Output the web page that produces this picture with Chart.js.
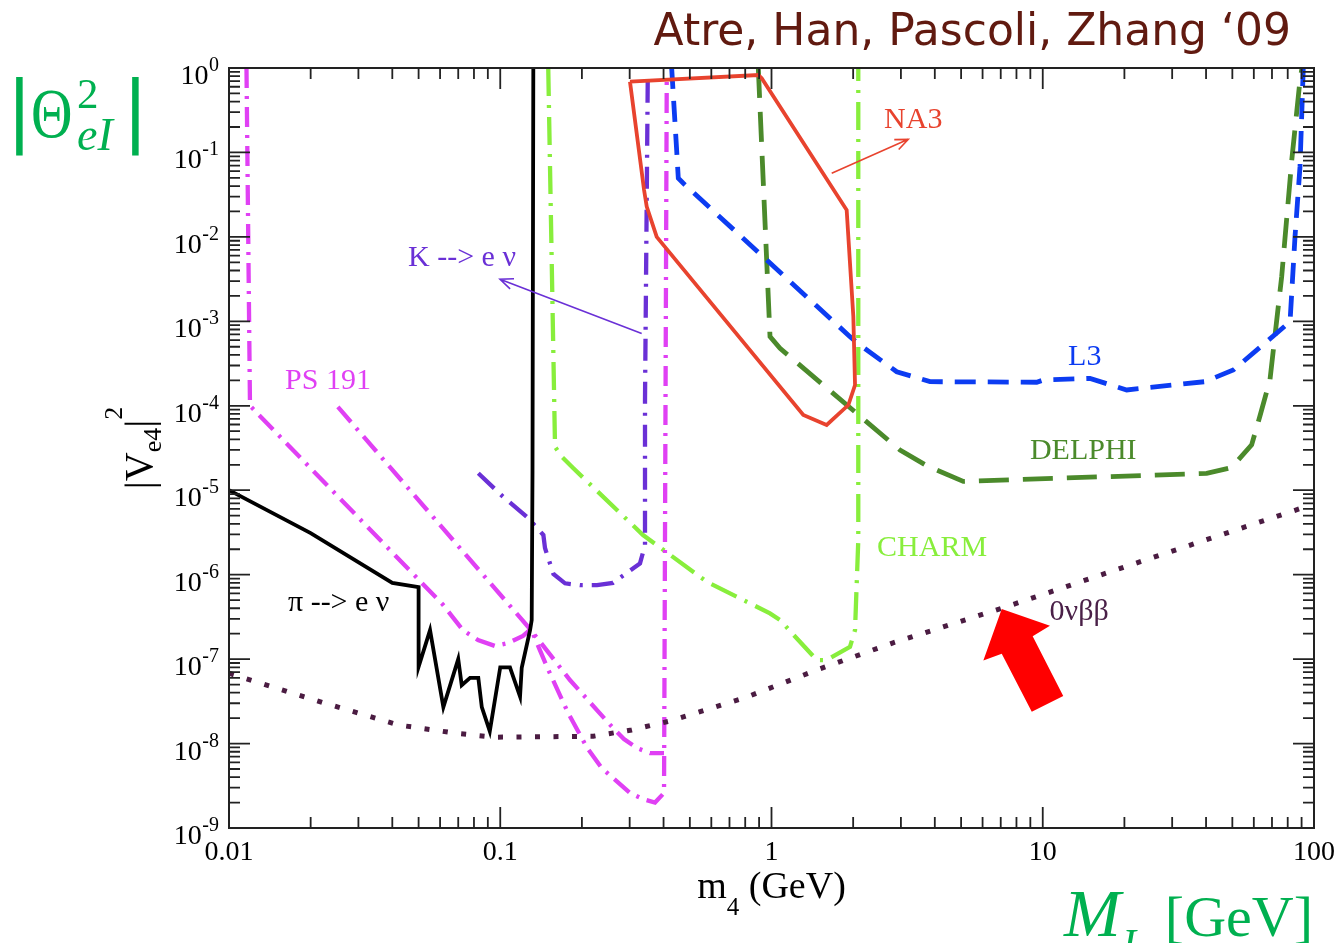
<!DOCTYPE html>
<html>
<head>
<meta charset="utf-8">
<script src="https://cdn.jsdelivr.net/npm/chart.js@4.4.0/dist/chart.umd.min.js"></script>
<style>
  html, body { margin: 0; padding: 0; background: #fff; }
  #wrap { position: relative; width: 1340px; height: 943px; }
</style>
</head>
<body>
<div id="wrap"><canvas id="grafico"></canvas></div>
<script>
// axis ticks
const xTickValues = [0.01, 0.1, 1, 10, 100];
const xTickLabels = ['0.01', '0.1', '1', '10', '100'];
const yTickExponents = [0, -1, -2, -3, -4, -5, -6, -7, -8, -9];
const minorSteps = [2, 3, 4, 5, 6, 7, 8, 9];

// pi --> e nu (black, solid)
const piX = [0.01, 0.02, 0.04, 0.05, 0.05, 0.0551, 0.0617, 0.070, 0.0721, 0.0774, 0.083, 0.0855, 0.0915, 0.1, 0.1086, 0.1183, 0.12, 0.1288, 0.1306, 0.1315, 0.1324];
const piY = [1e-5, 3.1e-6, 8.0e-7, 7.1e-7, 8.1e-8, 2.2e-7, 2.7e-8, 1.0e-7, 4.9e-8, 6.0e-8, 6.0e-8, 2.7e-8, 1.4e-8, 8.0e-8, 8.0e-8, 3.6e-8, 7.9e-8, 2.2e-7, 2.9e-7, 1.7e-5, 1];

// PS 191 (two magenta dash-dot curves)
const ps1X = [0.0116, 0.01195, 0.0615, 0.0729, 0.0828, 0.0956, 0.1068, 0.1213, 0.1298, 0.140, 0.150, 0.178, 0.209, 0.237, 0.301, 0.336, 0.372, 0.4016, 0.411];
const ps1Y = [1, 1e-4, 4.4e-7, 2.2e-7, 1.68e-7, 1.43e-7, 1.55e-7, 1.88e-7, 2.27e-7, 1.28e-7, 7.6e-8, 2.3e-8, 8.9e-9, 5.1e-9, 2.6e-9, 2.2e-9, 2.0e-9, 2.6e-9, 0.8];
const ps2X = [0.0252, 0.1288, 0.1807, 0.2604, 0.2858, 0.319, 0.3565, 0.4016];
const ps2Y = [9.7e-5, 2.27e-7, 5.65e-8, 1.53e-8, 1.13e-8, 8.85e-9, 7.7e-9, 7.7e-9];

// K --> e nu (purple dash-dot)
const kX = [0.083, 0.1023, 0.1265, 0.1442, 0.1462, 0.157, 0.1733, 0.1968, 0.2274, 0.2604, 0.3275, 0.3417, 0.3417, 0.3498];
const kY = [1.59e-5, 8.4e-6, 4.7e-6, 2.95e-6, 2.07e-6, 1.02e-6, 7.9e-7, 7.5e-7, 7.5e-7, 8.0e-7, 1.36e-6, 2.24e-6, 1.17e-4, 0.76];

// CHARM (lime dash-dot)
const charmX = [0.1503, 0.1592, 0.1689, 0.186, 0.336, 0.577, 0.987, 1.075, 1.468, 1.597, 1.947, 2.032, 2.089, 2.089];
const charmY = [1, 3.27e-5, 2.47e-5, 1.82e-5, 2.95e-6, 8.25e-7, 3.48e-7, 2.9e-7, 9.75e-8, 9.75e-8, 1.4e-7, 2.21e-7, 2.57e-6, 1];

// NA3 (red closed contour)
const na3X = [0.3008, 0.894, 0.920, 1.893, 2.003, 2.032, 1.92, 1.597, 1.31, 0.3774, 0.3467, 0.339, 0.3008];
const na3Y = [0.689, 0.826, 0.755, 0.0208, 1.135e-3, 1.76e-4, 1.02e-4, 5.92e-5, 7.78e-5, 1.0e-2, 0.0228, 0.0359, 0.689];

// L3 (blue dashed)
const l3X = [0.4285, 0.447, 0.4533, 0.473, 1.947, 2.12, 2.895, 3.84, 9.5, 10.05, 14.94, 20.4, 39.6, 50.4, 81.6, 85.1, 88.8, 91.3];
const l3Y = [1, 0.107, 0.0494, 0.0431, 6.58e-4, 5.25e-4, 2.53e-4, 1.93e-4, 1.9e-4, 2.02e-4, 2.11e-4, 1.54e-4, 1.93e-4, 2.65e-4, 9.9e-4, 1.0e-2, 0.0678, 1];

// DELPHI (dark green long dash)
const delphiX = [0.894, 0.9874, 1.075, 2.977, 3.735, 5.094, 7.57, 40.2, 49.7, 58.9, 63.2, 68.8, 76.0, 82.8, 88.8, 90.3];
const delphiY = [1, 6.58e-4, 4.79e-4, 2.99e-5, 1.95e-5, 1.27e-5, 1.33e-5, 1.58e-5, 1.86e-5, 3.44e-5, 7.57e-5, 2.02e-4, 3.38e-3, 0.0813, 0.721, 1];

// 0 nu beta beta (dotted)
const bbX = [0.01, 0.0223, 0.0421, 0.0691, 0.0956, 0.2203, 0.3053, 0.4225, 0.7985, 1.468, 2.774, 7.06, 24.9, 95];
const bbY = [6.8e-8, 3.04e-8, 1.66e-8, 1.32e-8, 1.19e-8, 1.22e-8, 1.45e-8, 1.85e-8, 3.49e-8, 7.43e-8, 1.54e-7, 4.0e-7, 1.56e-6, 6.5e-6];

// big red arrow pointing at the 0vbb line (data coords)
const redArrowX = [7.06, 6.04, 7.06, 9.11, 11.9, 9.18, 10.63];
const redArrowY = [3.93e-7, 9.62e-8, 1.16e-7, 2.38e-8, 3.65e-8, 1.87e-7, 2.49e-7];

const colPi = '#000000';
const colPS = '#e040f4';
const colK = '#6a30d6';
const colCharm = '#88ee3c';
const colNA3 = '#e8432e';
const colL3 = '#0c3cf2';
const colDelphi = '#4b8a2b';
const colBB = '#4b1c42';

const curveLabels = [
  {text: 'NA3', x: 2.6, y: 0.242, color: colNA3},
  {text: 'K --> e \u03bd', x: 0.0457, y: 5.62e-3, color: colK},
  {text: 'PS 191', x: 0.0161, y: 1.96e-4, color: colPS},
  {text: 'L3', x: 12.4, y: 3.78e-4, color: colL3},
  {text: 'DELPHI', x: 8.97, y: 2.91e-5, color: colDelphi},
  {text: 'CHARM', x: 2.45, y: 2.07e-6, color: colCharm},
  {text: '0\u03bd\u03b2\u03b2', x: 10.6, y: 3.61e-7, color: '#4a2048'},
  {text: '\u03c0 --> e \u03bd', x: 0.0165, y: 4.61e-7, color: '#000'}
];
const thinArrows = [
  {from: [0.3322, 7.2e-4], to: [0.0998, 3.15e-3], color: colK},
  {from: [1.667, 0.0566], to: [3.193, 0.143], color: colNA3}
];

function pts(xs, ys) {
    return xs.map((x, i) => ({x: x, y: ys[i]}));
}

function line(label, xs, ys, color, width, dash) {
    return {
        label: label,
        data: pts(xs, ys),
        showLine: true,
        borderColor: color,
        borderWidth: width,
        borderDash: dash,
        borderCapStyle: 'butt',
        borderJoinStyle: 'miter',
        pointRadius: 0,
        fill: false,
        tension: 0
    };
}

const SERIF = '"Liberation Serif", "Times New Roman", serif';

const framePlugin = {
    id: 'frame',
    afterDatasetsDraw(chart) {
        const ctx = chart.ctx;
        const xs = chart.scales.x;
        const ys = chart.scales.y;
        const a = chart.chartArea;
        ctx.save();

        // red block arrow
        ctx.fillStyle = '#ff0000';
        ctx.beginPath();
        redArrowX.forEach((v, i) => {
            const px = xs.getPixelForValue(v), py = ys.getPixelForValue(redArrowY[i]);
            if (i === 0) ctx.moveTo(px, py); else ctx.lineTo(px, py);
        });
        ctx.closePath();
        ctx.fill();

        // thin label arrows
        thinArrows.forEach(ar => {
            const x0 = xs.getPixelForValue(ar.from[0]), y0 = ys.getPixelForValue(ar.from[1]);
            const x1 = xs.getPixelForValue(ar.to[0]), y1 = ys.getPixelForValue(ar.to[1]);
            const ang = Math.atan2(y1 - y0, x1 - x0);
            ctx.strokeStyle = ar.color;
            ctx.lineWidth = 1.6;
            ctx.beginPath();
            ctx.moveTo(x0, y0); ctx.lineTo(x1, y1);
            ctx.moveTo(x1 - 14 * Math.cos(ang - 0.4), y1 - 14 * Math.sin(ang - 0.4));
            ctx.lineTo(x1, y1);
            ctx.lineTo(x1 - 14 * Math.cos(ang + 0.4), y1 - 14 * Math.sin(ang + 0.4));
            ctx.stroke();
        });

        // curve labels
        ctx.font = '30px ' + SERIF;
        ctx.textAlign = 'left';
        ctx.textBaseline = 'middle';
        curveLabels.forEach(l => {
            ctx.fillStyle = l.color;
            ctx.fillText(l.text, xs.getPixelForValue(l.x), ys.getPixelForValue(l.y));
        });

        // frame
        ctx.strokeStyle = '#222';
        ctx.lineWidth = 2;
        ctx.strokeRect(a.left, a.top, a.right - a.left, a.bottom - a.top);

        ctx.lineWidth = 1.8;
        ctx.beginPath();
        // x ticks, bottom and top
        xTickValues.forEach((v, i) => {
            const px = xs.getPixelForValue(v);
            ctx.moveTo(px, a.bottom); ctx.lineTo(px, a.bottom - 21);
            ctx.moveTo(px, a.top); ctx.lineTo(px, a.top + 21);
            if (i < xTickValues.length - 1) {
                minorSteps.forEach(m => {
                    const p = xs.getPixelForValue(v * m);
                    ctx.moveTo(p, a.bottom); ctx.lineTo(p, a.bottom - 11);
                    ctx.moveTo(p, a.top); ctx.lineTo(p, a.top + 11);
                });
            }
        });
        // y ticks, left and right
        yTickExponents.forEach((e, i) => {
            const v = Math.pow(10, e);
            const py = ys.getPixelForValue(v);
            ctx.moveTo(a.left, py); ctx.lineTo(a.left + 21, py);
            ctx.moveTo(a.right, py); ctx.lineTo(a.right - 21, py);
            if (e > -9) {
                minorSteps.forEach(m => {
                    const p = ys.getPixelForValue(v / 10 * m);
                    ctx.moveTo(a.left, p); ctx.lineTo(a.left + 11, p);
                    ctx.moveTo(a.right, p); ctx.lineTo(a.right - 11, p);
                });
            }
        });
        ctx.stroke();

        // tick labels
        ctx.fillStyle = '#000';
        ctx.textBaseline = 'alphabetic';
        ctx.textAlign = 'center';
        ctx.font = '28px ' + SERIF;
        xTickValues.forEach((v, i) => {
            ctx.fillText(xTickLabels[i], xs.getPixelForValue(v), a.bottom + 32);
        });
        ctx.textAlign = 'right';
        yTickExponents.forEach(e => {
            const py = ys.getPixelForValue(Math.pow(10, e));
            const sup = String(e);
            const right = a.left - 10;
            ctx.font = '20px ' + SERIF;
            ctx.fillText(sup, right, py + 3);
            const w = ctx.measureText(sup).width;
            ctx.font = '28px ' + SERIF;
            ctx.fillText('10', right - w - 0.5, py + 16);
        });

        // x axis title: m_4 (GeV)
        ctx.textAlign = 'left';
        const parts = [['m', 38, 0], ['4', 25, 17], [' (GeV)', 38, 0]];
        let total = 0;
        parts.forEach(p => { ctx.font = p[1] + 'px ' + SERIF; total += ctx.measureText(p[0]).width; });
        let cx = (a.left + a.right) / 2 - total / 2;
        parts.forEach(p => {
            ctx.font = p[1] + 'px ' + SERIF;
            ctx.fillText(p[0], cx, a.bottom + 70 + p[2]);
            cx += ctx.measureText(p[0]).width;
        });

        // y axis title: |V_e4|^2, rotated
        ctx.save();
        ctx.translate(a.left - 77, (a.top + a.bottom) / 2);
        ctx.rotate(-Math.PI / 2);
        const yparts = [['|V', 40, 0], ['e4', 26, 9], ['|', 40, 0], ['2', 26, -30]];
        total = 0;
        yparts.forEach(p => { ctx.font = p[1] + 'px ' + SERIF; total += ctx.measureText(p[0]).width; });
        cx = -total / 2;
        yparts.forEach(p => {
            ctx.font = p[1] + 'px ' + SERIF;
            ctx.fillText(p[0], cx, p[2]);
            cx += ctx.measureText(p[0]).width;
        });
        ctx.restore();

        ctx.restore();
    },
    afterDraw(chart) {
        // slide annotations around the plot
        const ctx = chart.ctx;
        ctx.save();
        ctx.textBaseline = 'alphabetic';

        ctx.fillStyle = '#611a10';
        ctx.font = '44px "DejaVu Sans", sans-serif';
        ctx.textAlign = 'right';
        ctx.fillText('Atre, Han, Pascoli, Zhang \u201809', 1291, 45);

        ctx.fillStyle = '#00b050';
        ctx.textAlign = 'center';
        ctx.font = '78px "DejaVu Sans", sans-serif';
        ctx.fillText('|', 19.5, 137);
        ctx.fillText('|', 135.5, 137);
        ctx.textAlign = 'left';
        ctx.save();
        ctx.translate(31, 137);
        ctx.scale(0.82, 1);
        ctx.font = '70px ' + SERIF;
        ctx.fillText('\u0398', 0, 0);
        ctx.restore();
        ctx.font = '43px ' + SERIF;
        ctx.fillText('2', 77, 108);
        ctx.font = 'italic 46px ' + SERIF;
        ctx.fillText('eI', 77, 150);

        ctx.font = 'italic 68px ' + SERIF;
        ctx.fillText('M', 1064, 936);
        ctx.font = 'italic 42px ' + SERIF;
        ctx.fillText('I', 1122, 958);
        ctx.textAlign = 'right';
        ctx.font = '58px ' + SERIF;
        ctx.fillText('[GeV]', 1313, 936);
        ctx.restore();
    }
};

const ctx = document.getElementById('grafico');

new Chart(ctx.getContext('2d'), {
    type: 'scatter',
    data: {
        datasets: [
            line('pi -> e nu', piX, piY, colPi, 3.8, []),
            line('NA3', na3X, na3Y, colNA3, 3.8, []),
            line('0vbb', bbX, bbY, colBB, 5, [5, 13.5]),
            line('PS 191 a', ps1X, ps1Y, colPS, 4.3, [20, 8, 3, 8]),
            line('PS 191 b', ps2X, ps2Y, colPS, 4.3, [20, 8, 3, 8]),
            line('K -> e nu', kX, kY, colK, 4.3, [22, 9, 3, 9]),
            line('CHARM', charmX, charmY, colCharm, 4.3, [28, 9, 3, 9]),
            line('L3', l3X, l3Y, colL3, 4.8, [21, 12]),
            line('DELPHI', delphiX, delphiY, colDelphi, 4.8, [30, 14])
        ]
    },
    options: {
        responsive: true,
        maintainAspectRatio: false,
        devicePixelRatio: 1,
        animation: false,
        events: [],
        layout: {padding: {left: 229, right: 26, top: 68, bottom: 115}},
        scales: {
            x: {type: 'logarithmic', min: 0.01, max: 100, display: false},
            y: {type: 'logarithmic', min: 1e-9, max: 1, display: false}
        },
        plugins: {
            legend: {display: false},
            tooltip: {enabled: false},
            title: {display: false}
        }
    },
    plugins: [framePlugin]
});
</script>
</body>
</html>
